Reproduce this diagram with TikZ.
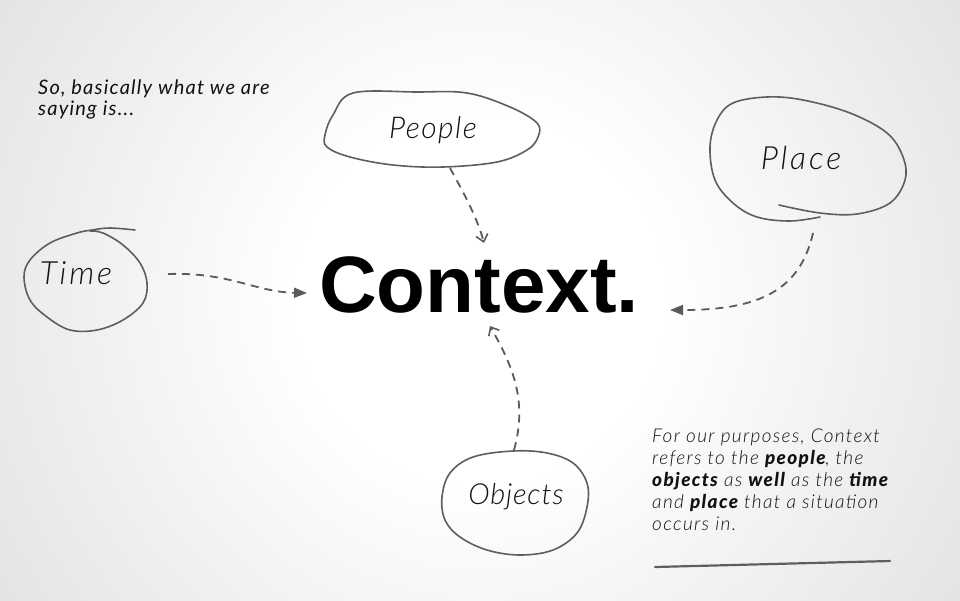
\documentclass[tikz,border=0pt]{standalone}
\usepackage{fontspec}
\setmainfont{Liberation Sans}
\newfontfamily\hand{Lato}[UprightFont={* Light Italic}, BoldFont={* Black Italic}]
\newfontfamily\handreg{Lato}[UprightFont={* Italic}, BoldFont={* Black Italic}]
\usetikzlibrary{arrows.meta}
\definecolor{ink}{HTML}{111111}
\definecolor{pen}{HTML}{5E5E5E}
\definecolor{dashink}{HTML}{5A5A5A}
% circular backdrop: white centre fading to light grey
\pgfdeclareradialshading{slidebg}{\pgfpoint{0bp}{0bp}}{%
  color(0bp)=(white); color(8bp)=(white);
  color(24bp)=(black!10); color(40bp)=(black!20);
  color(50bp)=(black!22); color(71bp)=(black!22)}
\tikzset{
  blob/.style={draw=pen, line width=1.6pt, line cap=round, line join=round},
  label/.style={text=ink, inner sep=0pt},
  note/.style={text=ink, inner sep=0pt, align=left},
  link/.style={draw=dashink, line width=1.8pt, dash pattern=on 8pt off 6pt},
  linkopen/.style={link, -{Straight Barb[length=7pt,width=12pt,line width=1.6pt]}},
  linkfill/.style={link, -{Triangle[length=13pt,width=10pt]}},
}
\begin{document}
\begin{tikzpicture}[x=1pt, y=-1pt]
  \useasboundingbox (0,0) rectangle (960,600);
  \begin{scope}
    \clip (0,0) rectangle (960,600);
    \shade[shading=slidebg] (-85,-265) rectangle (1045,865);
  \end{scope}

  % centre word
  \node[font=\bfseries\fontsize{80}{80}\selectfont, text=black, inner sep=0pt] (context) at (479,285) {Context.};

  % hand-drawn outlines
  \draw[blob] plot[smooth cycle, tension=0.6] coordinates {
    (353,93) (417,92) (467,93) (510,107) (537,123) (538,137) (527,150)
    (497,162) (443,167) (393,165) (350,157) (327,147) (325,135) (333,115)};
  \draw[blob] plot[smooth, tension=0.6] coordinates {
    (779,205) (820,213) (857,214) (890,203) (905,180) (903,157) (887,133)
    (850,113) (803,100) (767,97) (733,103) (717,120) (710,147) (715,180)
    (733,203) (757,217) (790,221) (820,217)};
  \draw[blob] plot[smooth, tension=0.6] coordinates {
    (135,230) (110,228) (92,230) (77,233) (50,243) (30,260) (24,277)
    (30,300) (47,317) (70,330) (97,330) (123,320) (143,303) (147,283)
    (140,263) (123,245) (103,233) (90,231)};
  \draw[blob] plot[smooth cycle, tension=0.6] coordinates {
    (513,451) (547,453) (573,463) (587,483) (587,507) (577,533) (553,550)
    (520,555) (487,550) (460,537) (445,520) (442,497) (450,473) (473,457)};

  % labels
  \node[label, font=\hand\fontsize{30}{30}\addfontfeature{LetterSpace=5}\selectfont] (people) at (433,130) {People};
  \node[label, font=\hand\fontsize{32}{32}\addfontfeature{LetterSpace=9}\selectfont] (place) at (801,158) {Place};
  \node[label, font=\hand\fontsize{32}{32}\addfontfeature{LetterSpace=9}\selectfont] (time) at (76,273) {Time};
  \node[label, font=\hand\fontsize{29}{29}\addfontfeature{LetterSpace=3}\selectfont] (objects) at (516,497) {Objects};

  % connector end points
  \coordinate (peopleout) at (450,168);
  \coordinate (peoplein) at (484,243);
  \coordinate (timeout) at (168,274);
  \coordinate (timein) at (307,293);
  \coordinate (placeout) at (813,233);
  \coordinate (placein) at (670,310);
  \coordinate (objout) at (514,450);
  \coordinate (objin) at (490,326);

  \draw[linkopen] (peopleout) .. controls (465,195) and (478,220) .. (peoplein);
  \draw[linkopen] (objout) .. controls (528,400) and (512,365) .. (objin);
  \draw[linkfill] (timeout) .. controls (230,272) and (255,292) .. (timein);
  \draw[linkfill] (placeout) .. controls (800,290) and (760,310) .. (placein);

  % notes
  \node[note, anchor=north west, font=\handreg\fontsize{20}{21}\addfontfeature{LetterSpace=6}\selectfont] (intro) at (38,80) {So, basically what we are\\saying is...};
  \node[note, anchor=north west, font=\hand\fontsize{19}{22}\addfontfeature{LetterSpace=7}\selectfont] (summary) at (652,429) {For our purposes, Context\\
    refers to the \textbf{people}, the\\
    \textbf{objects} as \textbf{well} as the \textbf{time}\\
    and \textbf{place} that a situation\\
    occurs in.};
  \coordinate (rulestart) at (655,567);
  \coordinate (ruleend) at (890,561);
  \draw[draw=pen, line width=2.2pt, line cap=round] (rulestart) -- (ruleend);
\end{tikzpicture}
\end{document}
